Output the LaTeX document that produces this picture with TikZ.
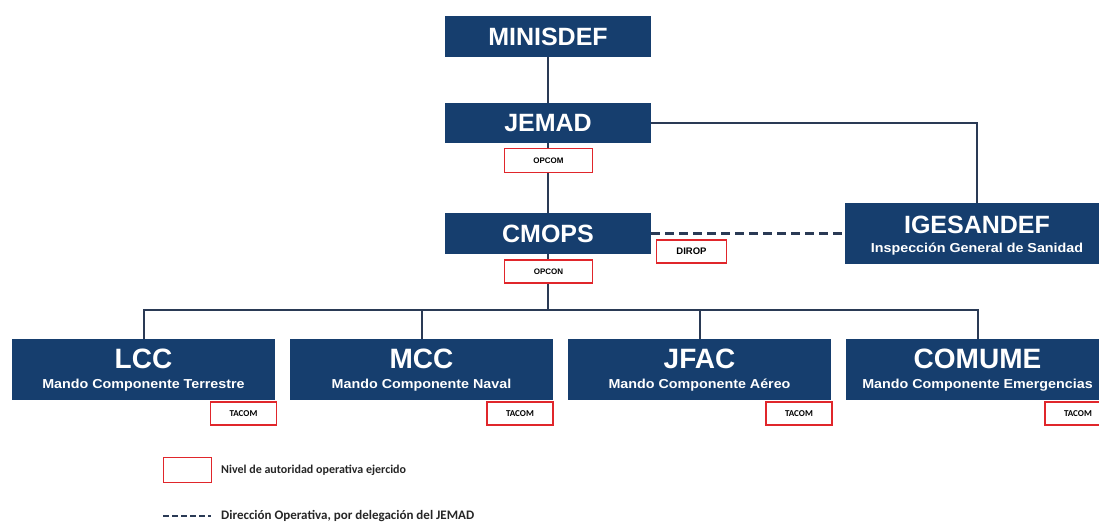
\documentclass[tikz,border=0pt]{standalone}
\usepackage{fontspec}
\setmainfont{Liberation Sans}
\newfontfamily\calib{Carlito}
\newfontfamily\widesans[FakeStretch=1.1]{Liberation Sans}
\definecolor{navy}{HTML}{163E6E}
\definecolor{lin}{HTML}{2A3A55}
\definecolor{redb}{HTML}{E0262B}
\tikzset{
  box/.style={fill=navy, draw=none, inner sep=0pt},
  ttl/.style={text=white, font=\fontsize{25}{25}\selectfont\bfseries, inner sep=0pt},
  sub/.style={text=white, font=\widesans\fontsize{13}{13}\selectfont\bfseries, inner sep=0pt},
  tag/.style={draw=redb, line width=1.6pt, fill=white, inner sep=0pt, font=\fontsize{8}{8}\selectfont\bfseries},
  ctag/.style={tag, font=\calib\fontsize{9}{9}\selectfont\bfseries},
  conn/.style={draw=lin, line width=2pt},
  dconn/.style={draw=lin, line width=2.2pt, dash pattern=on 9pt off 5pt},
  leg/.style={font=\calib\bfseries, anchor=west, inner sep=0pt, text=black!85}
}
\begin{document}
\begin{tikzpicture}[x=1pt,y=-1pt]
\useasboundingbox (0,0) rectangle (1099,522);
\clip (0,0) rectangle (1099,522);
% top boxes
\node[box, minimum width=206pt, minimum height=41pt] (minisdef) at (548,36.5) {};
\node[ttl] at (548,37) {MINISDEF};
\node[box, minimum width=206pt, minimum height=40pt] (jemad) at (548,123) {};
\node[ttl] at (548,123) {JEMAD};
\node[box, minimum width=206pt, minimum height=41pt] (cmops) at (548,233.5) {};
\node[ttl] at (548,234) {CMOPS};
\node[box, minimum width=264pt, minimum height=61pt] (iges) at (977,233.5) {};
\node[ttl] at (977,225) {IGESANDEF};
\node[sub] at (977,249) {Inspección General de Sanidad};
% bottom boxes
\node[box, minimum width=263pt, minimum height=61pt] (lcc) at (143.5,369.5) {};
\node[ttl, font=\fontsize{28}{28}\selectfont\bfseries] at (143.5,359) {LCC};
\node[sub] at (143.5,385) {Mando Componente Terrestre};
\node[box, minimum width=263pt, minimum height=61pt] (mcc) at (421.5,369.5) {};
\node[ttl, font=\fontsize{28}{28}\selectfont\bfseries] at (421.5,359) {MCC};
\node[sub] at (421.5,385) {Mando Componente Naval};
\node[box, minimum width=263pt, minimum height=61pt] (jfac) at (699.5,369.5) {};
\node[ttl, font=\fontsize{28}{28}\selectfont\bfseries] at (699.5,359) {JFAC};
\node[sub] at (699.5,385) {Mando Componente Aéreo};
\node[box, minimum width=263pt, minimum height=61pt] (comume) at (977.5,369.5) {};
\node[ttl, font=\fontsize{28}{28}\selectfont\bfseries] at (977.5,359) {COMUME};
\node[sub] at (977.5,385) {Mando Componente Emergencias};
% connectors
\coordinate (bus) at (548,310);
\coordinate (jr) at (977,123);
\draw[conn] (minisdef.south) -- (jemad.north);
\draw[conn] (jemad.south) -- (cmops.north);
\draw[conn] (cmops.south) -- (bus);
\draw[conn] (jemad.east) -- (jr) -- (iges.north);
\draw[conn] (lcc.north) |- (bus) -| (comume.north);
\draw[conn] (mcc.north) -- (mcc.north |- bus);
\draw[conn] (jfac.north) -- (jfac.north |- bus);
\draw[dconn] (cmops.east) -- (iges.west);
% tags
\node[tag, minimum width=88pt, minimum height=24pt] (opcom) at (548.5,160.5) {OPCOM};
\node[tag, minimum width=88pt, minimum height=23pt] (opcon) at (548.5,271.5) {OPCON};
\node[tag, minimum width=70pt, minimum height=23pt, font=\fontsize{9.5}{9.5}\selectfont\bfseries] (dirop) at (691.5,251.5) {DIROP};
\node[ctag, minimum width=66pt, minimum height=23pt] (t1) at (243.5,413.5) {TACOM};
\node[ctag, minimum width=66pt, minimum height=23pt] (t2) at (520,413.5) {TACOM};
\node[ctag, minimum width=66pt, minimum height=23pt] (t3) at (799,413.5) {TACOM};
\node[ctag, minimum width=66pt, minimum height=23pt] (t4) at (1078,413.5) {TACOM};
% legend
\node[tag, minimum width=48pt, minimum height=25pt] (legbox) at (187.5,470) {};
\node[leg, font=\calib\fontsize{12}{12}\selectfont\bfseries] (legt1) at (221,470) {Nivel de autoridad operativa ejercido};
\coordinate (ld1) at (163,516);
\coordinate (ld2) at (211,516);
\draw[dconn, dash pattern=on 6pt off 3pt] (ld1) -- (ld2);
\node[leg, font=\calib\fontsize{13}{13}\selectfont\bfseries] (legt2) at (221,516) {Dirección Operativa, por delegación del JEMAD};
\end{tikzpicture}
\end{document}
